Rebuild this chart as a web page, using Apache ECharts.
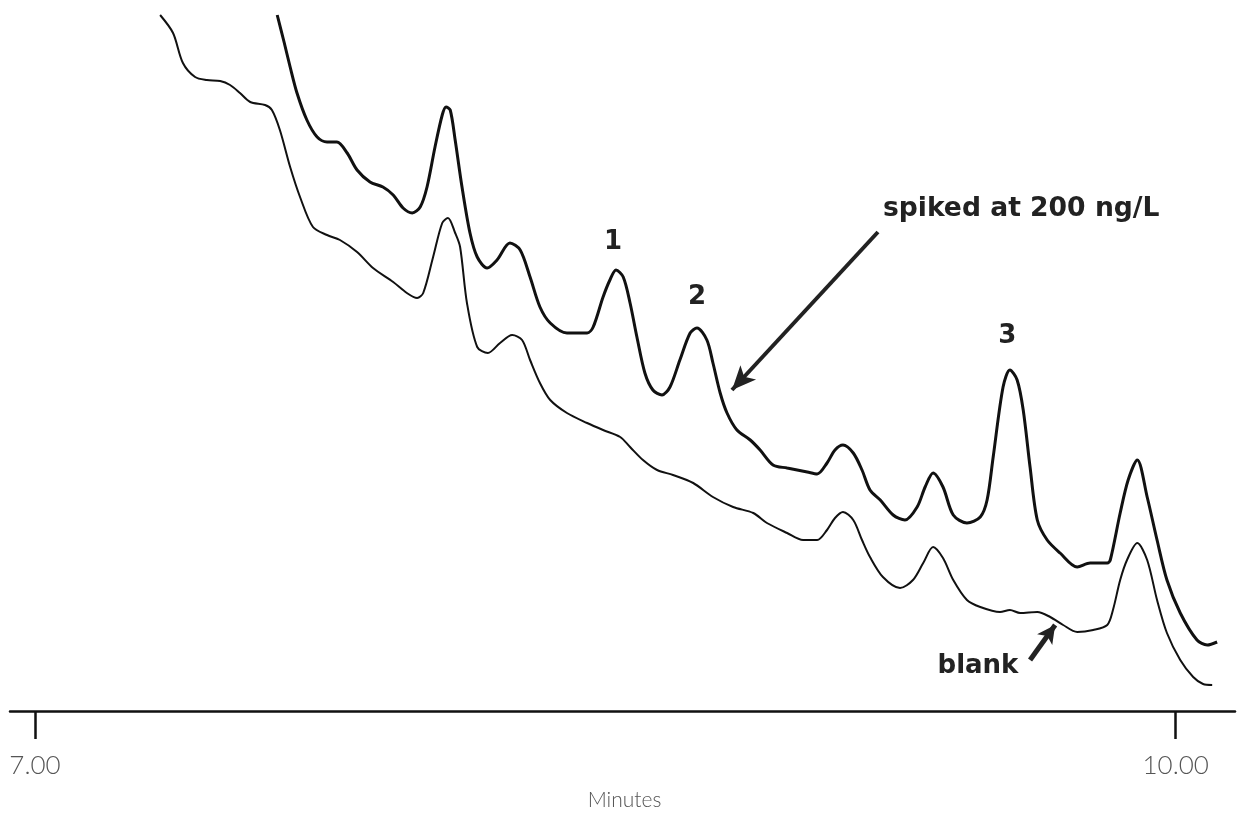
<!DOCTYPE html>
<html>
<head>
<meta charset="utf-8">
<script src="https://cdn.jsdelivr.net/npm/echarts@6/dist/echarts.min.js"></script>
<style>
html,body{margin:0;padding:0;background:#fff;}
#chart{width:1240px;height:817px;}
</style>
</head>
<body>
<div id="chart"></div>
<script>
// Retention time (minutes) and detector response (arbitrary units)
var spikedTime = [7.637,7.655,7.671,7.689,7.715,7.742,7.768,7.794,7.821,7.847,7.881,7.915,7.942,7.968,7.992,8.013,8.031,8.052,8.071,8.081,8.092,8.105,8.123,8.144,8.163,8.189,8.215,8.249,8.276,8.302,8.328,8.355,8.399,8.452,8.468,8.494,8.512,8.528,8.547,8.565,8.583,8.604,8.625,8.649,8.670,8.696,8.723,8.741,8.767,8.783,8.802,8.820,8.846,8.881,8.907,8.941,8.978,9.031,9.057,9.083,9.104,9.125,9.152,9.175,9.196,9.223,9.257,9.288,9.320,9.341,9.362,9.388,9.415,9.451,9.486,9.504,9.520,9.546,9.564,9.583,9.599,9.617,9.636,9.662,9.696,9.741,9.775,9.820,9.828,9.854,9.875,9.899,9.925,9.951,9.977,10.012,10.056,10.083,10.109];
var spikedSignal = [696,669,644,618,591,574,569,569,558,541,529,524,516,503,498,504,524,564,596,604,601,571,524,478,454,443,451,468,461,434,404,388,378,378,384,414,431,441,434,408,374,338,321,316,324,351,378,383,371,348,318,298,281,271,261,246,243,239,237,248,261,266,258,241,221,211,196,191,204,224,238,224,196,188,194,211,254,324,341,331,301,244,191,171,158,144,148,148,151,198,231,251,214,171,131,98,71,66,69];

var blankTime = [7.329,7.363,7.389,7.421,7.452,7.487,7.513,7.539,7.566,7.605,7.623,7.644,7.671,7.697,7.731,7.768,7.802,7.847,7.889,7.942,7.978,8.005,8.021,8.047,8.071,8.086,8.105,8.118,8.136,8.163,8.191,8.223,8.255,8.281,8.302,8.328,8.355,8.399,8.452,8.494,8.539,8.565,8.599,8.636,8.678,8.731,8.783,8.836,8.889,8.925,8.978,9.020,9.057,9.083,9.104,9.125,9.152,9.175,9.196,9.230,9.275,9.309,9.336,9.362,9.388,9.415,9.451,9.486,9.538,9.564,9.591,9.636,9.670,9.704,9.741,9.783,9.820,9.835,9.854,9.872,9.899,9.925,9.951,9.977,10.012,10.046,10.072,10.096];
var blankSignal = [696,678,648,634,631,630,626,618,609,606,601,581,544,514,484,476,471,459,443,429,418,413,418,454,488,493,478,464,408,364,358,368,376,371,351,328,311,298,288,281,274,264,251,241,236,228,214,204,198,188,178,171,171,181,193,199,191,171,154,134,123,131,148,164,153,131,111,104,99,101,98,99,94,86,79,81,86,101,131,151,168,151,111,78,51,34,27,26];

var axisTickValues = [7, 10];
var axisName = 'Minutes';

// Annotations: [time, response]
var peakLabels = [
  {text: '1', at: [8.520, 469]},
  {text: '2', at: [8.741, 414]},
  {text: '3', at: [9.557, 375]}
];
var spikedNote = {text: 'spiked at 200 ng/L', at: [9.230, 502], from: [9.217, 479], to: [8.833, 321]};
var blankNote = {text: 'blank', at: [9.480, 45], from: [9.617, 51], to: [9.683, 86]};

function pairs(xs, ys) {
  var out = [];
  for (var i = 0; i < xs.length; i++) out.push([xs[i], ys[i]]);
  return out;
}

var boldFont = 'DejaVu Sans';
var annotColor = '#222';

var chart = echarts.init(document.getElementById('chart'), null, {renderer: 'canvas'});

var markPts = peakLabels.map(function (p) {
  return {
    coord: p.at, symbol: 'circle', symbolSize: 0,
    label: {show: true, formatter: p.text, position: 'inside', color: annotColor,
      fontFamily: boldFont, fontWeight: 'bold', fontSize: 26}
  };
});
markPts.push({
  coord: spikedNote.at, symbol: 'circle', symbolSize: 0,
  label: {show: true, formatter: spikedNote.text, position: 'right', distance: 0, color: annotColor,
    fontFamily: boldFont, fontWeight: 'bold', fontSize: 26.6}
});
markPts.push({
  coord: blankNote.at, symbol: 'circle', symbolSize: 0,
  label: {show: true, formatter: blankNote.text, position: 'inside', color: annotColor,
    fontFamily: boldFont, fontWeight: 'bold', fontSize: 26}
});

chart.setOption({
  animation: false,
  backgroundColor: '#fff',
  grid: {left: 10, right: 5, top: 0, bottom: 106, containLabel: false},
  xAxis: {
    type: 'value',
    min: 6.9342,
    max: 10.156,
    splitLine: {show: false},
    axisLine: {show: true, onZero: false, lineStyle: {color: '#111', width: 2.5}},
    axisTick: {show: true, customValues: axisTickValues, length: 28, inside: false,
      lineStyle: {color: '#111', width: 2.5}},
    axisLabel: {show: true, customValues: axisTickValues, margin: 42,
      formatter: function (v) { return v.toFixed(2); },
      color: '#555', fontFamily: 'Lato', fontWeight: 300, fontSize: 26},
    name: axisName,
    nameLocation: 'middle',
    nameGap: 79,
    nameTextStyle: {color: '#555', fontFamily: 'Lato', fontWeight: 300, fontSize: 21, padding: [0, 0, 0, 4]}
  },
  yAxis: {
    type: 'value', min: 0, max: 711, show: false, splitLine: {show: false}
  },
  series: [
    {
      name: 'spiked at 200 ng/L',
      type: 'line',
      data: pairs(spikedTime, spikedSignal),
      showSymbol: false,
      smooth: 0.3,
      lineStyle: {color: '#111', width: 3},
      z: 3,
      markPoint: {silent: true, data: markPts},
      markLine: {
        silent: true,
        symbol: ['none', 'arrow'],
        symbolSize: [16, 24],
        label: {show: false},
        lineStyle: {color: annotColor, width: 4, type: 'solid'},
        data: [[{coord: spikedNote.from}, {coord: spikedNote.to}]]
      }
    },
    {
      name: 'blank',
      type: 'line',
      data: pairs(blankTime, blankSignal),
      showSymbol: false,
      smooth: 0.3,
      lineStyle: {color: '#111', width: 2},
      z: 2,
      markLine: {
        silent: true,
        symbol: ['none', 'arrow'],
        symbolSize: [14, 18],
        label: {show: false},
        lineStyle: {color: annotColor, width: 5, type: 'solid'},
        data: [[{coord: blankNote.from}, {coord: blankNote.to}]]
      }
    }
  ]
});
</script>
</body>
</html>
